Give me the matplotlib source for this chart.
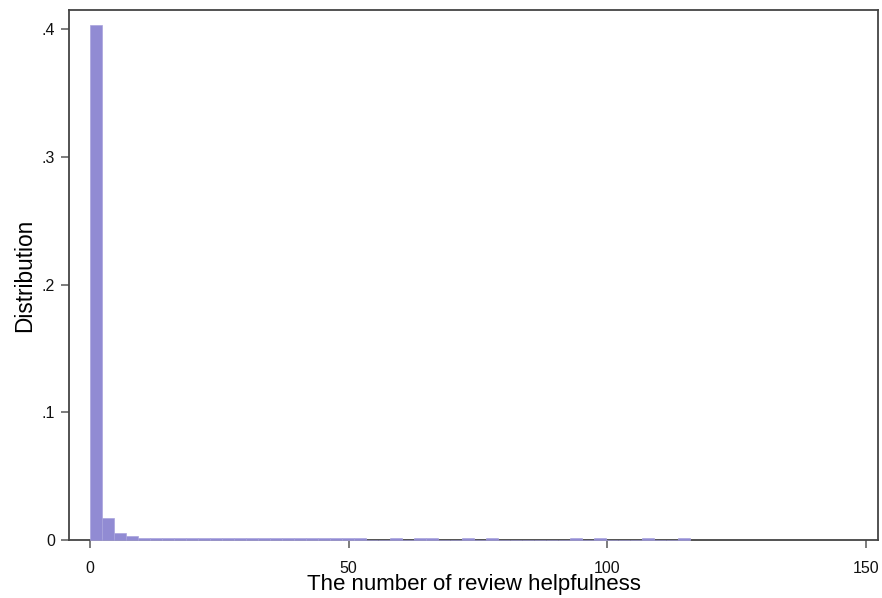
import numpy as np
import matplotlib.pyplot as plt

plt.rcParams['font.family'] = ['Liberation Sans', 'DejaVu Sans']

# histogram: bin width and density per bin
bin_width = 2.32
density = [0.403, 0.017, 0.0052, 0.003, 0.0017, 0.0015, 0.0014, 0.0014,
           0.0013, 0.0013, 0.0013, 0.0012, 0.0012, 0.0012, 0.0012, 0.0012,
           0.0012, 0.0012, 0.0012, 0.0012, 0.0012, 0.0012, 0.0012, 0.0,
           0.0, 0.0012, 0.0, 0.0012, 0.0012, 0.0, 0.0, 0.0012, 0.0,
           0.0012, 0.0, 0.0, 0.0, 0.0, 0.0, 0.0, 0.0012, 0.0, 0.0012,
           0.0, 0.0, 0.0, 0.0012, 0.0, 0.0, 0.0012]
x_ticks = [0, 50, 100, 150]
y_ticks = [0, 0.1, 0.2, 0.3, 0.4]
y_tick_labels = ['0', '.1', '.2', '.3', '.4']


def main():
    fig = plt.figure(figsize=(8.82, 5.98), dpi=100)
    ax = fig.add_axes([0.0782, 0.097, 0.9173, 0.8863])

    left_edges = np.arange(len(density)) * bin_width
    ax.bar(left_edges, density, width=bin_width, align='edge',
           color='#918bd3', edgecolor='#a9a4dd', linewidth=0.5,
           zorder=3, clip_on=False)

    ax.set_xlim(-4.1, 152.4)
    ax.set_ylim(0, 0.415)
    ax.set_xticks(x_ticks)
    ax.set_yticks(y_ticks)
    ax.set_yticklabels(y_tick_labels)

    for s in ax.spines.values():
        s.set_color('#444444')
        s.set_linewidth(1.3)
    ax.tick_params(direction='out', length=6, width=1.2, color='#666666',
                   labelsize=11.5, labelcolor='#111111')
    ax.tick_params(axis='x', pad=9)
    ax.tick_params(axis='y', pad=4)

    ax.set_xlabel('The number of review helpfulness', fontsize=16, labelpad=-1)
    ax.set_ylabel('Distribution', fontsize=16.3, labelpad=4)

    fig.savefig('out.png', dpi=100, facecolor='white')


if __name__ == "__main__":
    main()
